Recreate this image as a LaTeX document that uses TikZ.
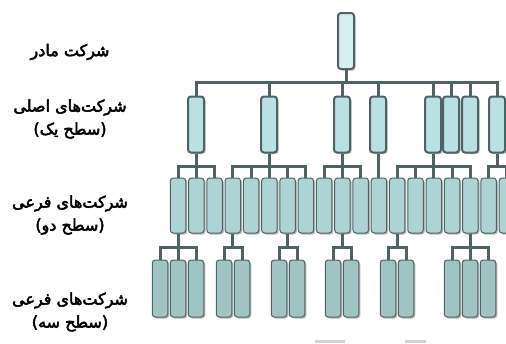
\documentclass[tikz,border=0pt]{standalone}
\usepackage{fontspec}
\usetikzlibrary{shadows}
\TeXXeTstate=1
\newfontfamily\arabicfont[Script=Arabic, FakeBold=3]{DejaVu Sans}
\definecolor{edgegray}{HTML}{4F6264}
\definecolor{topfill}{HTML}{D8EEF2}
\definecolor{onefill}{HTML}{B9E0E3}
\definecolor{twofill}{HTML}{AED3D5}
\definecolor{threefill}{HTML}{A0C3C4}
\begin{document}
\begin{tikzpicture}[x=1pt, y=-1pt,
    unit/.style={draw=edgegray, rectangle, rounded corners=3pt, inner sep=0pt,
        drop shadow={shadow xshift=1.5pt, shadow yshift=-1.5pt, fill=gray!55, opacity=1}},
    topbox/.style={unit, fill=topfill, line width=2pt, minimum width=16pt, minimum height=56pt},
    onebox/.style={unit, fill=onefill, line width=2pt, minimum width=16pt, minimum height=56pt},
    twobox/.style={unit, fill=twofill, line width=1pt, minimum width=15.5pt, minimum height=55pt},
    threebox/.style={unit, fill=threefill, line width=1pt, minimum width=15.5pt, minimum height=57pt},
    link/.style={draw=edgegray, line width=3pt},
    levellabel/.style={font=\fontsize{16}{23}\arabicfont, align=center, inner sep=0pt}]
  \useasboundingbox (0,0) rectangle (506,343);
  \begin{scope}
  \clip (0,0) rectangle (506,343);

  % bus heights
  \coordinate (bus0) at (0,82);
  \coordinate (bus1) at (0,166);
  \coordinate (bus2) at (0,247);

  % mother company
  \node[topbox] (top) at (346,41) {};

  % level one
  \foreach \i/\x in {1/196, 2/269, 3/342, 4/378, 5/433, 6/451, 7/470, 8/497}
    \node[onebox] (l1-\i) at (\x,124.5) {};

  % level two
  \foreach \i in {0,...,18}
    \node[twobox] (l2-\i) at ({178+18.27*\i},205.5) {};

  % level three
  \foreach \i/\x in {1/160, 2/178, 3/196, 4/224, 5/242, 6/279, 7/297,
                     8/333, 9/351, 10/388, 11/406, 12/452, 13/470, 14/488}
    \node[threebox] (l3-\i) at (\x,288.5) {};

  % connectors
  \foreach \c in {1,...,8}
    \draw[link] (top.south) -- (top.south |- bus0) -| (l1-\c.north);

  \foreach \p/\c in {1/0, 1/1, 1/2, 2/3, 2/4, 2/5, 2/6, 2/7, 3/8, 3/9, 3/10,
                     4/11, 5/12, 5/13, 5/14, 5/15, 5/16, 8/17, 8/18}
    \draw[link] (l1-\p.south) -- (l1-\p.south |- bus1) -| (l2-\c.north);

  \foreach \p/\c in {0/1, 0/2, 0/3, 3/4, 3/5, 6/6, 6/7, 9/8, 9/9,
                     12/10, 12/11, 16/12, 16/13, 16/14}
    \draw[link] (l2-\p.south) -- (l2-\p.south |- bus2) -| (l3-\c.north);

  % bits at the bottom edge
  \fill[gray!35] (315,340) rectangle (345,343);
  \fill[gray!35] (405,340) rectangle (426,343);
  \end{scope}

  % level names
  \node[levellabel] (name0) at (70,52) {\beginR شرکت مادر\endR};
  \node[levellabel] (name1) at (70,119) {\beginR شرکت‌های اصلی\endR\\\beginR (سطح یک)\endR};
  \node[levellabel] (name2) at (70,215) {\beginR شرکت‌های فرعی\endR\\\beginR (سطح دو)\endR};
  \node[levellabel] (name3) at (70,312) {\beginR شرکت‌های فرعی\endR\\\beginR (سطح سه)\endR};
\end{tikzpicture}
\end{document}
